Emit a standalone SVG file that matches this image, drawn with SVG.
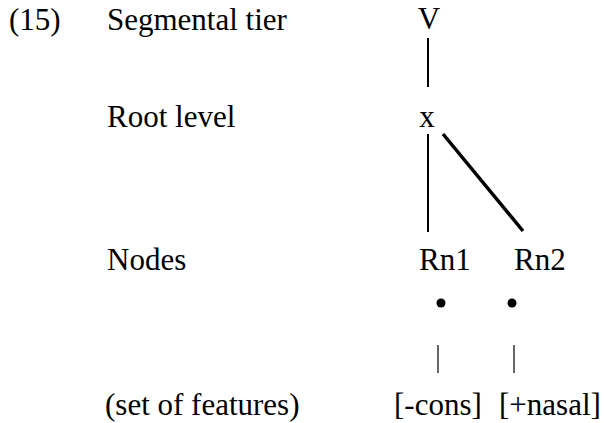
<svg xmlns="http://www.w3.org/2000/svg" width="604" height="423" viewBox="0 0 604 423">
<style>
.t{font-size:31px;fill:#000}
.thin{stroke:#000;stroke-width:1.2;fill:none}
.med{stroke:#000;stroke-width:2;fill:none}
.thick{stroke:#000;stroke-width:3.5;fill:none}
</style>
<rect width="604" height="423" fill="#fff"/>
<g font-family="'Liberation Serif', 'Times New Roman', 'DejaVu Serif', serif">
<g id="labels">
<text class="t" x="9" y="30">(15)</text>
<text class="t" x="107" y="30">Segmental tier</text>
<text class="t" x="107" y="127">Root level</text>
<text class="t" x="107" y="270">Nodes</text>
<text class="t" x="105" y="415">(set of features)</text>
</g>
<g id="node-V"><text class="t" x="429" y="29" text-anchor="middle">V</text></g>
<g id="node-x"><text class="t" x="427" y="127" text-anchor="middle">x</text></g>
<g id="node-Rn1"><text class="t" x="419" y="270">Rn1</text></g>
<g id="node-Rn2"><text class="t" x="514" y="270">Rn2</text></g>
<g id="node-cons"><text class="t" x="394" y="415">[-cons]</text></g>
<g id="node-nasal"><text class="t" x="499" y="415">[+nasal]</text></g>
</g>
<g id="node-dot1"><circle cx="441" cy="303" r="4.5" fill="#000"/></g>
<g id="node-dot2"><circle cx="512" cy="303" r="4.5" fill="#000"/></g>
<g id="connectors">
<line class="med" x1="428" y1="38" x2="428" y2="87"/>
<line class="med" x1="428" y1="134" x2="428" y2="232"/>
<line class="thick" x1="443" y1="134" x2="523" y2="231"/>
<line class="thin" x1="438" y1="345" x2="438" y2="373"/>
<line class="thin" x1="514" y1="345" x2="514" y2="373"/>
</g>
</svg>
